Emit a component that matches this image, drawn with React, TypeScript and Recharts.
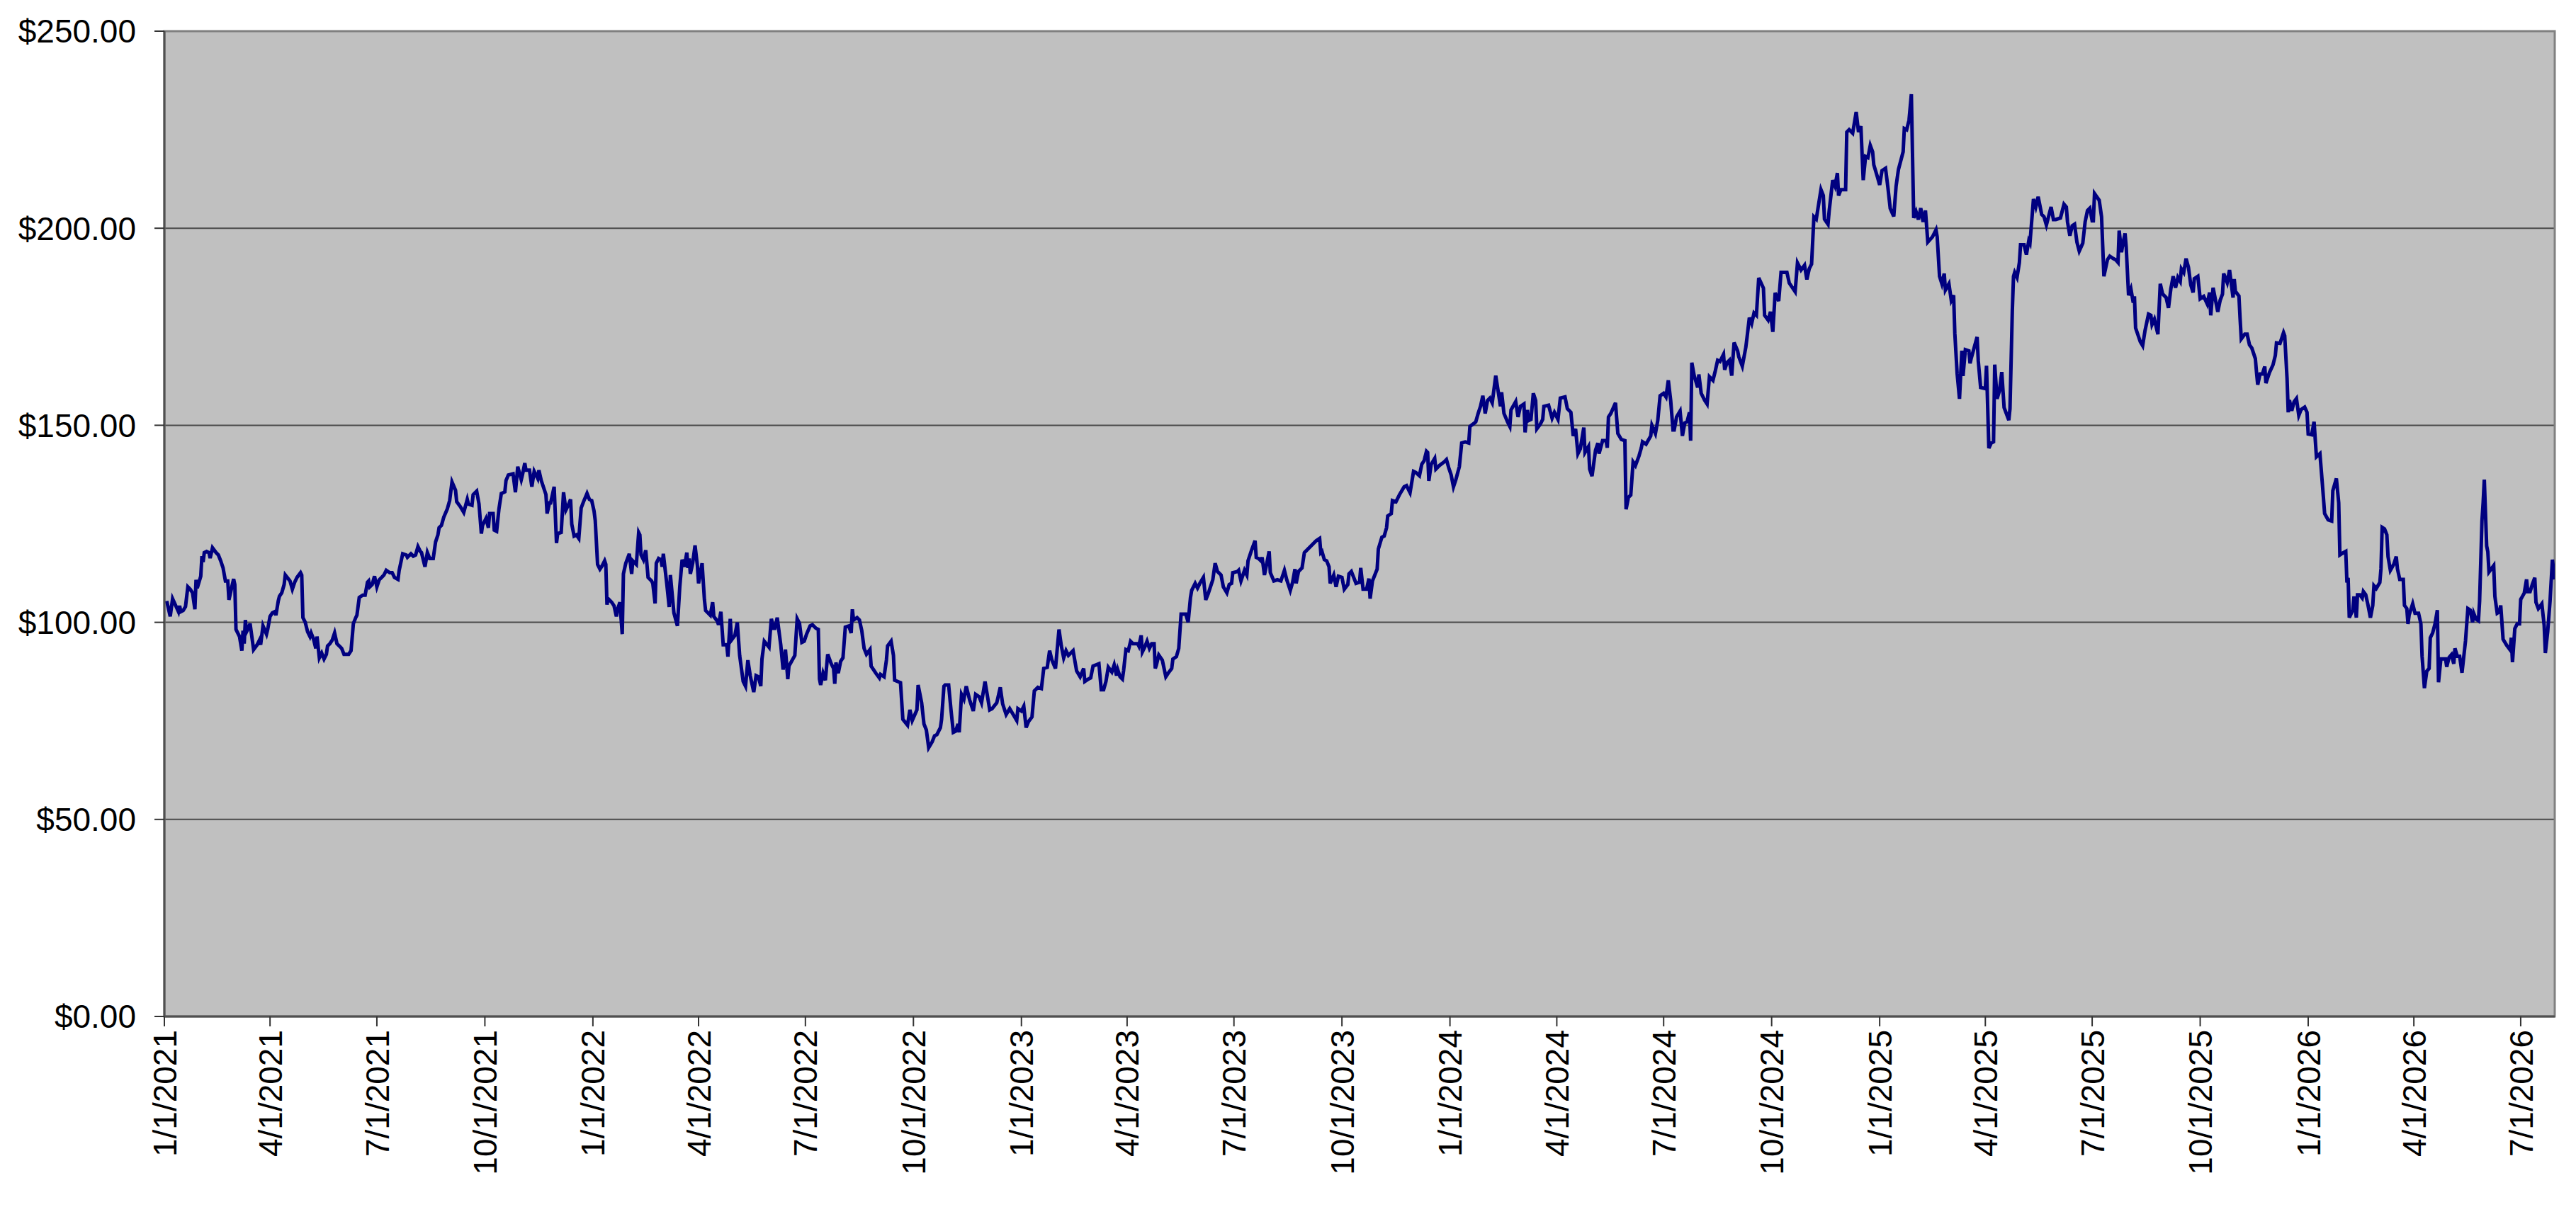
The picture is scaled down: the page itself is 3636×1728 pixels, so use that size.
import { CartesianGrid, Line, LineChart, ReferenceArea, XAxis, YAxis } from 'recharts';

const START = Date.UTC(2021, 0, 1);
const DAY = 86400000;
const LAST_DAY = 2036;

// [days since 1/1/2021, price] in six stretches
const pricesA: [number, number][] = [
  [2, 105.4], [5, 101.5], [7, 106], [10, 104], [12, 102.7], [13, 104.2], [14, 102.7], [16, 103], [18, 104], [20, 109],
  [22, 108.4], [24, 107.5], [26, 103.3], [27, 110.8], [28, 108.7], [31, 111.7], [32, 116.8], [33, 115.3], [34, 117.7], [36, 118],
  [38, 117.7], [39, 116.3], [41, 118.9], [44, 117.7], [46, 117.1], [48, 115.6], [50, 113.8], [52, 110.5], [54, 110.5], [55, 105.7],
  [57, 108.4], [59, 111], [60, 109.6], [61, 98.2], [64, 96.4], [66, 92.8], [67, 97.9], [68, 94.6], [69, 100.6], [70, 97.6],
  [72, 98.8], [73, 99.7], [76, 93.1], [79, 94.3], [81, 95.5], [82, 94.3], [84, 99.1], [87, 97], [88, 98.2], [90, 101.5],
  [92, 102.4], [94, 102.7], [95, 101.8], [97, 105.4], [98, 106.6], [100, 107.5], [102, 109.6], [103, 112], [107, 110.5], [109, 108.4],
  [111, 110.2], [113, 111.4], [116, 112.6], [117, 112], [118, 101.2], [120, 100], [122, 97.6], [124, 96.4], [125, 97.3], [127, 95.8],
  [129, 93.4], [130, 96.4], [132, 91], [134, 92.2], [136, 90.7], [138, 91.9], [139, 94], [141, 94.6], [143, 95.5], [145, 97.3],
  [147, 94.6], [149, 94], [151, 93.4], [153, 91.9], [157, 91.9], [159, 92.8], [161, 99.7], [163, 101.2], [164, 101.8], [166, 106.3],
  [169, 106.9], [171, 106.9], [173, 110.2], [174, 110.5], [175, 109], [177, 109.6], [179, 111.7], [181, 109], [183, 110.8], [185, 111.4],
  [187, 112], [189, 113.2], [192, 112.6], [194, 112.6], [196, 111.4], [199, 110.9], [200, 113.2], [203, 117.4], [206, 117.1], [207, 116.5],
  [210, 117.4], [212, 116.8], [214, 117.1], [216, 119.2], [218, 118], [219, 117.7], [222, 114.1], [224, 117.7], [226, 116.2], [229, 116.2],
  [231, 120.4], [233, 122.2], [234, 124], [236, 124.6], [238, 126.7], [241, 128.8], [243, 130.9], [245, 135.6], [248, 133.5], [249, 130.6],
  [252, 129.4], [255, 127.9], [258, 131.2], [259, 130], [262, 129.7], [263, 132.4], [266, 133.3], [268, 130], [270, 122.5], [271, 124.6],
  [274, 126.4], [276, 124], [277, 127.6], [280, 127.6], [281, 123.4], [283, 123.1], [285, 128.8], [287, 132.7], [290, 133.1], [291, 136],
  [293, 137.4], [297, 137.7], [299, 133], [301, 139.5], [304, 136.2], [305, 137.4], [307, 140.4], [308, 138.6], [311, 138.6], [313, 134.4],
  [315, 138.3], [318, 136.5], [319, 138.6], [321, 136], [322, 135.1], [325, 132.4], [326, 127.6], [328, 130.3], [329, 130.3], [332, 134.4],
  [334, 120.1], [335, 122.5], [338, 122.8], [340, 133], [342, 128.5], [344, 129.7], [346, 131.2], [347, 124.9], [349, 121.9], [351, 122.2],
  [353, 121.3], [355, 129], [357, 130.6], [360, 132.7],
];

const pricesB: [number, number][] = [
  [362, 131.2], [364, 130.9], [366, 128.2], [367, 125.8], [369, 114.7], [371, 113.5], [373, 114.4], [375, 115.6], [376, 114.7], [377, 104.5],
  [378, 106], [381, 105.1], [383, 104.2], [385, 101.5], [386, 103.3], [388, 105.1], [390, 97], [391, 112.3], [393, 115], [396, 117.4],
  [398, 112.3], [399, 115.6], [402, 114.7], [404, 122.8], [405, 122.2], [406, 117.1], [408, 115.9], [410, 118.3], [412, 111.4], [415, 110.5],
  [416, 109.9], [418, 104.8], [419, 115], [421, 116.2], [423, 115.9], [424, 114.1], [425, 117.4], [428, 109.6], [430, 103.9], [431, 112],
  [434, 102.4], [437, 99.1], [439, 109], [441, 115.9], [443, 114.1], [445, 117.7], [446, 113.8], [447, 116.2], [448, 112.3], [450, 115],
  [452, 119.5], [454, 114.4], [455, 109.9], [458, 115], [460, 105.7], [461, 103], [465, 101.8], [467, 105.1], [468, 101.5], [471, 100.3],
  [472, 99.4], [474, 102.7], [476, 94.3], [479, 94.3], [480, 91.3], [482, 100.9], [483, 95.5], [486, 96.7], [488, 100], [490, 91.6],
  [493, 85], [495, 83.8], [497, 90.4], [499, 86.5], [502, 82.3], [504, 86.5], [506, 86.2], [508, 83.8], [509, 90.7], [511, 95.2],
  [515, 93.7], [517, 100.9], [519, 98.5], [520, 98.5], [522, 101.2], [525, 94.3], [527, 88], [529, 93.1], [531, 85.6], [532, 88.9],
  [537, 91.6], [539, 100.9], [541, 99.7], [543, 94.9], [545, 95.2], [547, 97], [550, 99.1], [552, 99.4], [555, 98.5], [557, 98.2],
  [558, 85.6], [559, 84.1], [561, 87.1], [563, 85.3], [565, 91.9], [568, 89.5], [570, 88.3], [571, 84.4], [572, 89.8], [574, 87.1],
  [576, 90.1], [578, 91], [580, 98.8], [583, 99.1], [585, 97.3], [586, 103.3], [587, 100.6], [590, 101.2], [592, 100.6], [594, 97.9],
  [596, 93.4], [598, 91.9], [601, 93.1], [602, 88.9], [606, 87.1], [609, 85.9], [610, 86.8], [613, 86.2], [615, 90.4], [616, 94],
  [619, 95.2], [621, 91.6], [622, 85.3], [627, 84.7], [629, 75.4], [633, 73.9], [635, 77.8], [637, 75.1], [641, 77.8], [642, 84.1],
  [645, 79.6], [647, 74.2], [649, 72.7], [651, 68.2], [654, 69.7], [656, 71.2], [658, 71.5], [661, 73.3], [662, 75.4], [664, 83.8],
  [665, 84.1], [668, 84.1], [670, 77.8], [672, 72.1], [674, 72.4], [676, 74.2], [677, 72.1], [679, 81.7], [681, 80.5], [683, 83.8],
  [686, 80.2], [689, 77.5], [691, 81.7], [694, 81.1], [696, 79.6], [699, 85], [701, 81.4], [703, 77.8], [705, 78.1], [709, 79.6],
  [712, 83.5], [714, 79.3], [717, 76.6], [720, 78.1], [723, 76.6],
];

const pricesC: [number, number][] = [
  [726, 75.1], [727, 78.1], [730, 77.5], [732, 78.7], [734, 73.3], [736, 74.8], [739, 76], [741, 82.6], [744, 83.5], [747, 83.2],
  [749, 88.3], [752, 88.6], [754, 92.8], [756, 90.4], [759, 88.3], [762, 98.2], [764, 94], [766, 91], [768, 92.8], [770, 91.6],
  [774, 92.8], [777, 87.7], [780, 86.2], [783, 88.3], [784, 85], [787, 85.6], [789, 85.9], [791, 88.9], [796, 89.5], [798, 82.9],
  [800, 82.9], [802, 85], [804, 88.6], [807, 87.4], [809, 89.2], [811, 86.5], [812, 88], [814, 86.2], [816, 85.6], [817, 87.7],
  [819, 93.1], [821, 92.8], [823, 95.2], [825, 94.6], [829, 94.6], [830, 94], [832, 96.7], [833, 92.5], [835, 93.7], [837, 95.2],
  [839, 93.4], [841, 94.6], [843, 94.6], [844, 88.3], [845, 89.2], [847, 91.7], [850, 90.4], [853, 86.2], [855, 87.1], [858, 88.3],
  [859, 90.7], [862, 91.3], [864, 93.4], [866, 102.1], [870, 102.1], [872, 100], [874, 106.3], [875, 108.1], [878, 109.9], [880, 108.7],
  [882, 109.9], [885, 111.4], [887, 105.7], [889, 107.2], [893, 110.8], [895, 115], [897, 112.9], [900, 112], [902, 109], [905, 107.5],
  [907, 109.6], [909, 109.9], [910, 112.6], [914, 112.9], [915, 113.2], [917, 110.5], [920, 113.2], [922, 112], [923, 115.6], [926, 118.3],
  [929, 120.7], [930, 116.5], [932, 116.2], [934, 115.6], [935, 116.5], [937, 112], [939, 115], [941, 118], [942, 112.6], [945, 110.5],
  [948, 110.8], [951, 110.5], [954, 113.2], [956, 110.8], [959, 108.1], [961, 110.2], [963, 113.5], [964, 109.9], [966, 112.9], [969, 113.8],
  [971, 117.7], [975, 118.9], [978, 119.8], [981, 120.7], [984, 121.3], [985, 117.7], [986, 118], [988, 115.9], [990, 115.6], [992, 114.1],
  [993, 109.9], [996, 112], [998, 109], [1000, 111.7], [1003, 111.4], [1005, 108.4], [1008, 109.6], [1009, 112.3], [1011, 112.9], [1013, 111.4],
  [1015, 109.9], [1018, 110.2], [1019, 113.8], [1021, 108.4], [1024, 108.4], [1026, 111.1], [1027, 106], [1029, 110.5], [1033, 113.5], [1034, 118.6],
  [1037, 121.6], [1039, 121.9], [1041, 124], [1042, 127], [1045, 127.6], [1046, 130.9], [1049, 130.6], [1052, 132.4],
];

const pricesD: [number, number][] = [
  [1056, 134.4], [1058, 134.7], [1061, 132.9], [1064, 138.3], [1066, 138], [1069, 137.2], [1071, 140.1], [1073, 141], [1075, 143.4], [1076, 143.1],
  [1077, 135.9], [1079, 140.1], [1082, 141.6], [1083, 138.9], [1086, 139.8], [1090, 140.7], [1092, 141.3], [1094, 139.2], [1096, 137.4], [1098, 134.4],
  [1100, 136.2], [1103, 139.5], [1105, 145.5], [1108, 145.8], [1111, 145.5], [1112, 149.7], [1116, 150.6], [1117, 150.9], [1119, 153], [1121, 154.8],
  [1123, 157.5], [1125, 153], [1127, 156.3], [1129, 156.9], [1131, 155.7], [1134, 162.6], [1136, 158.7], [1138, 154.8], [1139, 158.4], [1141, 153],
  [1144, 150.9], [1146, 149.7], [1147, 153.9], [1151, 156], [1153, 152.1], [1155, 154.8], [1158, 155.4], [1159, 148.2], [1161, 153.9], [1162, 151.2],
  [1164, 151.5], [1166, 158.1], [1168, 156.3], [1169, 149.1], [1172, 150.3], [1174, 151.5], [1175, 154.8], [1179, 155.1], [1182, 151.8], [1184, 153.3],
  [1187, 151.5], [1189, 156.9], [1193, 157.2], [1195, 154.2], [1198, 153.3], [1200, 147.3], [1202, 149.1], [1204, 142.8], [1206, 144], [1209, 149.4],
  [1210, 143.1], [1213, 144.6], [1214, 138.9], [1216, 137.1], [1219, 143.7], [1221, 145.5], [1222, 142.8], [1225, 146.1], [1228, 146.1], [1229, 144.3],
  [1230, 152.1], [1232, 153], [1236, 155.7], [1238, 147.9], [1241, 146.4], [1244, 146.1], [1245, 128.7], [1247, 131.7], [1249, 132.3], [1251, 140.7],
  [1253, 139.8], [1256, 142.2], [1258, 144.3], [1259, 145.8], [1262, 145.2], [1266, 147.3], [1267, 150], [1270, 147.9], [1272, 151.2], [1274, 157.5],
  [1277, 158.1], [1279, 157.2], [1281, 161.4], [1283, 156.3], [1285, 148.8], [1286, 148.8], [1288, 152.1], [1291, 153.6], [1293, 147.3], [1295, 150.6],
  [1297, 150.9], [1299, 153.3], [1300, 146.1], [1301, 165.9], [1303, 162.6], [1306, 159.6], [1307, 162.9], [1309, 158.1], [1312, 156.3], [1314, 155.4],
  [1316, 162.3], [1319, 161.4], [1321, 163.8], [1323, 166.5], [1325, 166.2], [1328, 168], [1329, 164.1], [1331, 165.9], [1333, 166.5], [1335, 162.6],
  [1337, 171], [1340, 168.9], [1341, 167.4], [1344, 165], [1347, 169.8], [1348, 172.2], [1350, 177.3], [1352, 175.8], [1354, 178.5], [1356, 177.9],
  [1358, 187.4], [1360, 186.1], [1362, 184.8], [1363, 177.9], [1366, 176.7], [1368, 178.8], [1370, 173.7], [1372, 183.6], [1375, 181.5], [1377, 188.8],
  [1382, 188.8], [1384, 186.1], [1389, 183.9], [1391, 191.2], [1394, 189.4], [1397, 190.6], [1399, 187], [1401, 189.7], [1403, 190.9], [1405, 202.9],
  [1407, 202.3], [1411, 209.8], [1413, 208.3], [1414, 202.3],
];

const pricesE: [number, number][] = [
  [1417, 201], [1418, 204.4], [1421, 212.2], [1423, 210.7], [1425, 214], [1426, 208.3], [1428, 209.8], [1432, 209.8], [1433, 224.4],
  [1435, 225], [1438, 224.1], [1441, 229.5], [1443, 224.4], [1445, 225.9], [1447, 212.2], [1449, 218.2], [1451, 217.9], [1453, 221], [1455, 219.4],
  [1456, 216.1], [1459, 213.1], [1461, 211], [1463, 214.6], [1466, 215.2], [1468, 210.4], [1470, 205], [1473, 203], [1475, 210.7], [1477, 214.9],
  [1481, 219.4], [1482, 225.3], [1484, 225], [1486, 227.4], [1488, 234], [1490, 202.6], [1492, 204.2], [1494, 202.2], [1496, 205.1], [1498, 201.6],
  [1500, 204.5], [1502, 196.5], [1506, 197.8], [1509, 199.6], [1510, 197.8], [1512, 187.8], [1514, 185.9], [1516, 188.5], [1517, 184.3], [1520, 185.9],
  [1522, 181.7], [1524, 183], [1525, 173.4], [1527, 163.1], [1529, 156.7], [1531, 168.9], [1532, 162.5], [1534, 169.2], [1537, 168.9], [1538, 165.7],
  [1539, 167], [1544, 172.4], [1545, 166.3], [1547, 159.6], [1551, 159.3], [1552, 165.1], [1554, 144.2], [1556, 145.5], [1558, 145.8], [1559, 165.4],
  [1561, 156.7], [1563, 158.7], [1565, 163.5], [1567, 154.5], [1571, 151.3], [1572, 154.2], [1574, 179.2], [1575, 187.8], [1576, 188.8], [1578, 187.5],
  [1580, 191.3], [1581, 195.8], [1584, 195.8], [1586, 193.3], [1588, 196.8], [1589, 196.2], [1592, 207.4], [1594, 205.4], [1596, 208], [1599, 203.5],
  [1601, 202.9], [1603, 200.8], [1607, 205.4], [1609, 202.2], [1611, 202.2], [1615, 202.6], [1618, 206.1], [1620, 205.4], [1621, 201.6], [1623, 198.1],
  [1625, 200.6], [1627, 201], [1629, 196.5], [1631, 194.2], [1634, 196.2], [1636, 201.6], [1638, 204.5], [1640, 205.1], [1642, 201.9], [1643, 201.9],
  [1644, 208.8], [1648, 207.1], [1650, 202.9], [1652, 187.8], [1655, 192], [1657, 192.9], [1660, 192.3], [1662, 192], [1664, 191.3], [1665, 199.4],
  [1667, 193.9], [1668, 195.8], [1670, 198.7], [1671, 195.2], [1673, 183], [1675, 184.6], [1677, 181.1], [1678, 182.7], [1679, 174.7], [1683, 171.2],
  [1685, 170.2], [1687, 174], [1690, 178.2], [1692, 177.9], [1693, 175.6], [1695, 176.9], [1698, 173.1], [1700, 185.9], [1702, 183.3], [1705, 182.4],
  [1707, 179.8], [1709, 184.6], [1711, 187.8], [1713, 184.9], [1715, 187.5], [1717, 186.5], [1718, 189.7], [1720, 188.8], [1722, 192.3], [1724, 190.1],
  [1726, 185.6], [1728, 183.7], [1729, 187.2], [1732, 187.8], [1734, 182.1], [1737, 182.7], [1740, 180.8], [1742, 183.7], [1743, 177.9], [1745, 184.9],
  [1749, 178.8], [1751, 181.7], [1753, 183.3], [1754, 188.5], [1757, 186.2], [1759, 189.4],
];

const pricesF: [number, number][] = [
  [1762, 182.4], [1763, 187.1], [1764, 184], [1767, 182.8], [1768, 177], [1769, 171.9], [1772, 173.1], [1774, 173.1], [1776, 170.4], [1778, 169.6],
  [1781, 166.9], [1782, 163.4], [1783, 160.3], [1785, 163], [1787, 163], [1789, 164.9], [1790, 160.7], [1793, 163.4], [1796, 165.3], [1798, 167.7],
  [1799, 170.9], [1802, 170.8], [1805, 173.5], [1806, 172.7], [1808, 161.8], [1809, 153.3], [1810, 156.4], [1812, 153.7], [1814, 156], [1816, 156.8],
  [1818, 152.5], [1820, 154], [1823, 154.6], [1825, 153.3], [1826, 147.8], [1829, 147.6], [1831, 150.9], [1833, 142], [1836, 142.8], [1838, 135.4],
  [1840, 127.6], [1843, 126], [1846, 125.7], [1847, 133.4], [1850, 136.5], [1852, 130.3], [1853, 117.1], [1855, 117.5], [1858, 118], [1859, 110.1],
  [1860, 111.3], [1861, 101.2], [1864, 103.1], [1865, 106.6], [1867, 101.2], [1868, 107], [1870, 107], [1872, 106.2], [1873, 107.8], [1875, 107],
  [1877, 104.3], [1879, 101.2], [1881, 104.3], [1882, 109.3], [1884, 108.6], [1887, 110.1], [1888, 113.6], [1889, 124.1], [1891, 123.7], [1893, 122.2],
  [1894, 116.7], [1896, 113.2], [1899, 114.8], [1901, 116.7], [1902, 113.6], [1904, 110.9], [1907, 110.9], [1908, 104.3], [1910, 103.5], [1911, 99.6],
  [1912, 101.9], [1915, 104.7], [1917, 102.3], [1920, 102.3], [1922, 99.6], [1923, 91.4], [1925, 83.3], [1927, 87.6], [1929, 88.3], [1930, 96.1],
  [1932, 97.3], [1934, 99.6], [1936, 103.1], [1937, 84.8], [1939, 90.7], [1943, 90.7], [1944, 88.7], [1946, 91.1], [1948, 91.8], [1950, 89.5],
  [1951, 93.4], [1953, 91.4], [1955, 91.4], [1957, 87.2], [1960, 95.3], [1962, 103.5], [1964, 103.1], [1966, 100], [1967, 102.3], [1969, 100.8],
  [1971, 100.4], [1972, 105.4], [1974, 125.7], [1975, 130.3], [1976, 136.2], [1978, 119.4], [1979, 117.9], [1980, 112.8], [1982, 113.6], [1984, 114.4],
  [1985, 106.6], [1987, 102.3], [1989, 102.7], [1990, 104.3], [1992, 95.7], [1995, 94.2], [1998, 93], [1999, 96.1], [2000, 89.9], [2002, 98.4],
  [2004, 99.6], [2006, 99.6], [2007, 105.8], [2010, 107.4], [2012, 110.9], [2013, 107.8], [2015, 107.8], [2017, 109.7], [2019, 111.3], [2020, 105.1],
  [2022, 103.5], [2023, 103.9], [2025, 104.7], [2027, 99.2], [2028, 92.2], [2030, 97.7], [2032, 105.4], [2034, 115.9], [2036, 110.9],
];

const tickLabels = [
  '1/1/2021', '4/1/2021', '7/1/2021', '10/1/2021',
  '1/1/2022', '4/1/2022', '7/1/2022', '10/1/2022',
  '1/1/2023', '4/1/2023', '7/1/2023', '10/1/2023',
  '1/1/2024', '4/1/2024', '7/1/2024', '10/1/2024',
  '1/1/2025', '4/1/2025', '7/1/2025', '10/1/2025',
  '1/1/2026', '4/1/2026', '7/1/2026',
];
const priceTicks = [0, 50, 100, 150, 200, 250];

const toTime = (label: string) => {
  const [m, d, y] = label.split('/').map(Number);
  return Date.UTC(y, m - 1, d);
};
const dateTicks = tickLabels.map(toTime);

const data = [...pricesA, ...pricesB, ...pricesC, ...pricesD, ...pricesE, ...pricesF].map(
  ([day, price]) => ({ t: START + day * DAY, price })
);

const FONT = '"Liberation Sans", Arial, sans-serif';

const fmtDate = (t: number) => {
  const d = new Date(t);
  return `${d.getUTCMonth() + 1}/${d.getUTCDate()}/${d.getUTCFullYear()}`;
};

// eslint-disable-next-line @typescript-eslint/no-explicit-any
function DateTick({ x, y, payload }: any) {
  return (
    <g transform={`translate(${x},${y})`}>
      <text transform='rotate(-90)' textAnchor='end' dy='0.36em' fontSize={46} fontFamily={FONT} fill='#000'>
        {fmtDate(payload.value)}
      </text>
    </g>
  );
}

export default function App() {
  return (
    <LineChart width={3620} height={1712} data={data} margin={{ top: 36, right: 22, bottom: 0, left: 0 }}>
      <CartesianGrid vertical={false} stroke='#4a4a4a' strokeWidth={2} fill='#c0c0c0' fillOpacity={1} />
      <XAxis
        dataKey='t'
        type='number'
        domain={[START, START + LAST_DAY * DAY]}
        ticks={dateTicks}
        allowDataOverflow
        height={285}
        tickSize={14}
        tickMargin={5}
        stroke='#333333'
        axisLine={{ stroke: '#505050', strokeWidth: 3 }}
        tickLine={{ stroke: '#333333', strokeWidth: 2 }}
        tick={<DateTick />}
        interval={0}
      />
      <YAxis
        type='number'
        domain={[0, 250]}
        ticks={priceTicks}
        width={224}
        tickSize={14}
        tickMargin={26}
        axisLine={{ stroke: '#505050', strokeWidth: 3 }}
        tickLine={{ stroke: '#333333', strokeWidth: 2 }}
        tick={{ fontSize: 46, fontFamily: FONT, fill: '#000' }}
        tickFormatter={(v) => `$${v.toFixed(2)}`}
        interval={0}
      />
      <Line
        type='linear'
        dataKey='price'
        stroke='#000080'
        strokeWidth={5}
        dot={false}
        isAnimationActive={false}
      />
      <ReferenceArea
        x1={START}
        x2={START + LAST_DAY * DAY}
        y1={0}
        y2={250}
        fill='none'
        stroke='#808080'
        strokeWidth={3}
      />
    </LineChart>
  );
}
